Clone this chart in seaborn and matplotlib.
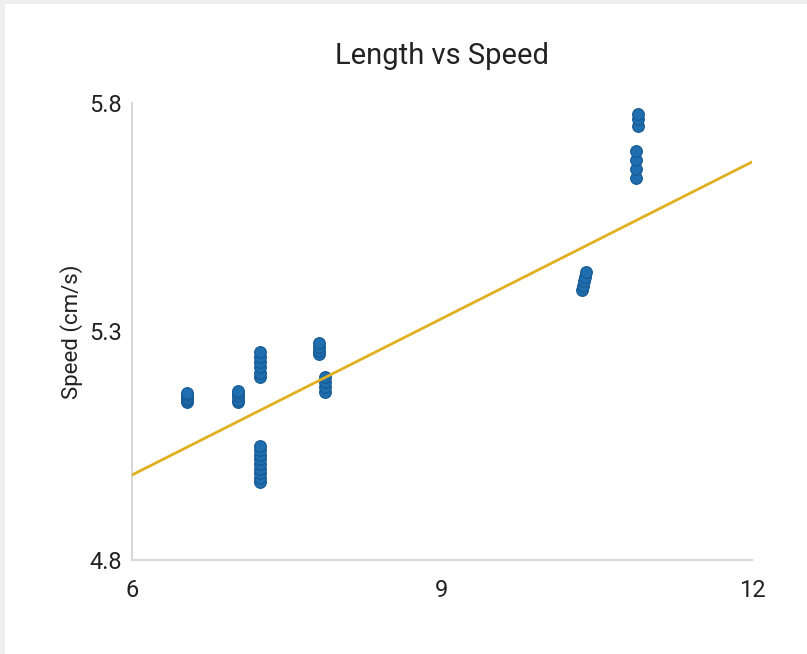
import matplotlib
matplotlib.use("Agg")
import matplotlib.pyplot as plt
import seaborn as sns
import pandas as pd
from matplotlib.patches import Rectangle

sns.set_theme(style="white")
plt.rcParams['font.family'] = ['Roboto', 'DejaVu Sans']

length_a = [6.53] * 5
speed_a = [5.145, 5.150, 5.155, 5.160, 5.165]
length_b = [7.03] * 5
speed_b = [5.145, 5.150, 5.158, 5.165, 5.170]
length_c = [7.24] * 6
speed_c = [5.200, 5.210, 5.222, 5.233, 5.245, 5.255]
length_d = [7.24] * 9
speed_d = [4.970, 4.980, 4.990, 5.000, 5.010, 5.020, 5.030, 5.040, 5.050]
length_e = [7.81] * 4
speed_e = [5.250, 5.258, 5.267, 5.275]
length_f = [7.87] * 4
speed_f = [5.168, 5.178, 5.190, 5.200]
length_g = [10.35, 10.36, 10.37, 10.38, 10.39]
speed_g = [5.390, 5.400, 5.410, 5.420, 5.430]
length_h = [10.88, 10.88, 10.88, 10.88, 10.90, 10.90, 10.90]
speed_h = [5.635, 5.655, 5.675, 5.695, 5.750, 5.765, 5.775]

# trend line as shown in the chart
fit_length = [6.0, 12.0]
fit_speed = [4.986, 5.671]

lengths = length_a + length_b + length_c + length_d + length_e + length_f + length_g + length_h
speeds = speed_a + speed_b + speed_c + speed_d + speed_e + speed_f + speed_g + speed_h
df = pd.DataFrame({"Length": lengths, "Speed": speeds})
fit_df = pd.DataFrame({"Length": fit_length, "Speed": fit_speed})

x_ticks = [6, 9, 12]
y_ticks = [4.8, 5.3, 5.8]

fig = plt.figure(figsize=(8.07, 6.54), dpi=100)
fig.patch.set_facecolor("#efefef")
fig.patches.append(Rectangle((5 / 807, 0), 1, 1 - 4 / 654, transform=fig.transFigure,
                             facecolor="white", edgecolor="none", zorder=-1))
ax = fig.add_axes([132 / 807, 94 / 654, 620 / 807, 457 / 654])
ax.set_facecolor("white")

sns.lineplot(data=fit_df, x="Length", y="Speed", ax=ax, color="#e0b020", lw=2, zorder=3)
sns.scatterplot(data=df, x="Length", y="Speed", ax=ax, s=70, color="#1f6eb0",
                edgecolor="#185a94", linewidth=0.9, zorder=2)

ax.set_xlim(6, 12)
ax.set_ylim(4.8, 5.8)
ax.set_xticks(x_ticks)
ax.set_xticklabels([str(t) for t in x_ticks])
ax.set_yticks(y_ticks)
ax.set_yticklabels([str(t) for t in y_ticks])
ax.tick_params(axis="both", labelsize=17, colors="#222222", length=4, color="#cccccc")
ax.tick_params(axis="x", pad=10)
ax.set_xlabel("")
ax.set_ylabel("Speed (cm/s)", fontsize=16, color="#222222", labelpad=4)
ax.set_title("Length vs Speed", fontsize=21, color="#222222", pad=28)
for side in ["top", "right"]:
    ax.spines[side].set_visible(False)
for side in ["left", "bottom"]:
    ax.spines[side].set_color("#d9d9d9")
    ax.spines[side].set_linewidth(1.5)

fig.savefig("out.png", dpi=100)
